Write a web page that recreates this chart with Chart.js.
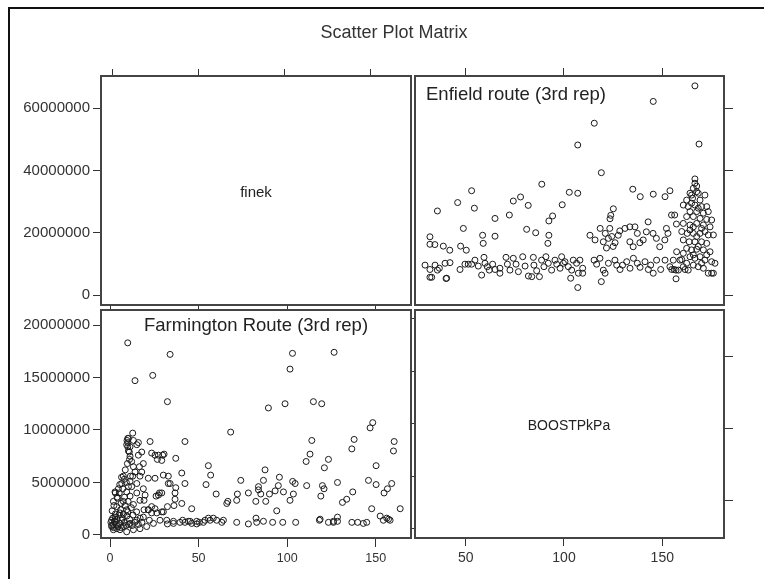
<!DOCTYPE html>
<html>
<head>
<meta charset="utf-8">
<script src="https://cdn.jsdelivr.net/npm/chart.js@4.4.1/dist/chart.umd.min.js"></script>
<style>
    body { margin: 0; background: #fff; width: 764px; height: 579px; overflow: hidden;
           font-family: "Liberation Sans", Arial, sans-serif; position: relative; }
    #frame { position: absolute; left: 8px; top: 7px; width: 800px; height: 620px;
             border-left: 2px solid #111; border-top: 2px solid #111; }
    canvas { position: absolute; left: 0; top: 0; }
    .txt { position: absolute; color: #222; white-space: nowrap; transform: translate(-50%, -50%); }
</style>
</head>
<body>
<div id="frame"></div>
<canvas id="pTL" width="764" height="579"></canvas>
<canvas id="pTR" width="764" height="579"></canvas>
<canvas id="pBL" width="764" height="579"></canvas>
<canvas id="pBR" width="764" height="579"></canvas>

<div class="txt" style="left:394px; top:32px; font-size:18px; color:#333;">Scatter Plot Matrix</div>
<div class="txt" style="left:256px; top:191px; font-size:15px;">finek</div>
<div class="txt" style="left:569px; top:425px; font-size:14px;">BOOSTPkPa</div>
<div class="txt" style="left:516px; top:94px; font-size:18.5px;">Enfield route (3rd rep)</div>
<div class="txt" style="left:256px; top:325px; font-size:18.5px;">Farmington Route (3rd rep)</div>

<script>
// ── Data (finek values in millions) ──
const enfieldBoost = [
    166.6, 145.4, 115.4, 107.0, 168.7, 119.0, 166.6, 88.7, 53.0, 102.7, 107.0, 135.0, 138.8, 145.4, 151.4, 153.9,
    45.9, 54.4, 35.6, 74.2, 77.9, 81.8, 72.2, 64.9, 99.1, 94.2, 92.3, 48.8, 81.0, 85.6, 64.9, 58.6, 92.3,
    31.8, 31.8, 34.3, 38.6, 41.9, 47.4, 50.3, 58.9, 91.8, 113.2, 125.1, 123.8, 123.4,
    115.8, 118.4, 120.0, 121.0, 122.6, 124.3, 126.0, 127.6, 125.0, 121.6, 123.3, 128.4, 131.0, 133.5, 136.1, 137.3,
    133.5, 135.2, 138.6, 140.3, 141.9, 142.8, 145.3, 147.0, 148.7, 151.3, 152.9, 152.1, 154.7, 156.3, 157.2,
    166.6, 165.8, 167.5, 164.1, 168.3, 162.4, 165.4, 169.2, 171.7, 160.7, 163.2, 166.6, 170.0, 172.6, 164.1, 167.5,
    170.9, 173.4, 162.4, 165.8, 169.2, 172.6, 175.1, 160.7, 164.1, 167.5, 170.9, 174.3, 159.9, 162.7, 165.8, 169.2,
    173.4, 176.0, 160.7, 163.7, 166.6, 170.0, 172.6, 162.4, 164.9, 167.5, 170.9, 174.3, 160.7, 164.1, 166.6, 169.2,
    171.7, 175.1, 176.8, 162.4, 165.8, 168.3, 170.9, 173.4, 175.1, 163.2, 160.7, 159.0, 157.3, 155.6, 154.8, 157.0,
    164.9, 168.3, 165.8, 170.0, 167.5, 164.1, 171.7, 168.3, 165.8, 170.0, 172.6, 167.5, 164.9,
    29.3, 31.8, 32.7, 34.4, 35.6, 36.6, 39.5, 40.3, 42.0, 47.1, 49.6, 51.3, 53.0, 54.7, 56.4, 58.1, 59.3, 59.8,
    61.0, 62.0, 63.7, 64.9, 67.4, 67.4, 70.5, 71.2, 72.5, 74.2, 75.6, 76.8, 79.0, 80.2, 81.9, 83.6, 84.4, 84.7,
    86.1, 87.5, 88.6, 89.8, 90.8, 92.0, 93.7, 95.4, 96.3, 98.0, 98.8, 99.7, 100.5, 102.2, 103.9, 104.7, 106.4,
    108.1, 109.5, 109.5, 115.3, 116.6, 118.3, 120.0, 120.9, 122.6, 125.9, 126.8, 128.5, 129.8, 131.9, 133.6,
    135.3, 137.3, 138.7, 141.2, 142.9, 144.1, 145.4, 147.1, 149.2, 151.4, 153.9, 156.0, 158.2, 159.9, 161.6,
    103.4, 107.3, 107.0, 119.0, 157.0, 40.0, 31.8, 176.0
];
const enfieldFinek = [
    67.2, 62.2, 55.2, 48.2, 48.5, 39.3, 37.3, 35.6, 33.5, 33.0, 32.7, 34.0, 31.6, 32.4, 31.6, 33.5,
    29.7, 27.9, 27.0, 30.2, 31.5, 28.8, 25.7, 24.6, 29.0, 25.4, 23.8, 21.4, 21.1, 20.0, 18.9, 19.2, 19.2,
    18.7, 16.3, 16.2, 15.7, 14.4, 15.7, 14.4, 16.6, 16.6, 19.2, 27.7, 25.6, 24.5,
    17.7, 21.4, 17.1, 19.8, 18.2, 18.8, 16.8, 19.2, 15.6, 15.1, 21.4, 20.6, 21.4, 21.9, 21.9, 19.8,
    17.1, 15.5, 16.8, 17.7, 20.3, 23.5, 19.8, 18.2, 15.5, 17.7, 19.8, 21.4, 25.7, 25.7, 22.8,
    35.9, 34.3, 35.0, 32.7, 32.7, 30.5, 31.1, 30.5, 32.1, 28.9, 28.4, 28.9, 28.4, 28.4, 26.8, 26.8,
    26.3, 26.8, 25.2, 25.2, 24.6, 24.3, 24.1, 23.0, 22.5, 23.0, 22.5, 21.9, 20.4, 19.8, 19.8, 19.8,
    19.3, 19.3, 17.7, 17.1, 17.1, 17.1, 16.6, 15.0, 14.5, 14.7, 14.5, 13.9, 13.4, 12.3, 11.8, 12.3,
    11.2, 10.7, 10.2, 10.2, 9.6, 9.1, 8.6, 7.0, 7.0, 8.0, 9.1, 11.2, 13.9, 11.2, 8.2, 8.0,
    29.5, 27.9, 21.9, 21.4, 18.8, 20.9, 20.4, 15.6, 12.9, 10.2, 12.9, 33.2, 32.1,
    9.6, 8.2, 5.7, 9.6, 8.0, 8.6, 10.2, 5.4, 10.4, 8.2, 9.9, 9.9, 9.9, 11.2, 9.3, 6.4, 12.1, 10.2,
    9.1, 8.0, 9.9, 8.2, 8.6, 7.0, 12.1, 9.9, 8.0, 11.8, 9.9, 7.5, 12.3, 9.3, 6.1, 5.9, 12.1, 9.6,
    7.8, 5.9, 11.2, 9.1, 12.3, 10.2, 8.0, 11.2, 9.9, 8.6, 12.3, 10.2, 10.7, 9.1, 8.0, 11.2, 10.2,
    11.2, 8.6, 7.0, 11.2, 9.9, 11.8, 8.0, 7.0, 10.2, 11.2, 9.6, 8.2, 9.6, 10.7, 8.6,
    11.8, 10.2, 8.9, 10.7, 8.2, 9.6, 7.0, 11.2, 8.2, 11.2, 9.1, 8.2, 8.0, 11.4, 8.2,
    5.4, 7.0, 2.4, 4.3, 5.2, 5.3, 5.7, 7.0
];

const farmingtonX = [
    10.0, 33.9, 14.1, 24.1, 32.4, 103.0, 101.6, 126.5, 89.4, 98.8, 114.8, 119.5, 68.1, 148.3, 146.8, 160.4,
    160.0, 137.8, 136.5, 113.9, 112.9, 110.7, 123.3, 121.0, 150.2, 145.9, 150.2, 159.0, 156.6, 154.7, 128.4,
    119.9, 120.8, 119.0, 103.1, 104.5, 103.5, 101.6, 111.0, 95.6, 95.0, 93.2, 97.9, 87.9, 137.0, 133.6, 131.2,
    163.8, 147.7, 152.5, 156.2, 128.4, 126.1, 118.6, 94.1, 82.3, 83.8, 85.1, 90.0, 78.1, 71.9, 71.5, 65.9,
    66.5, 73.8, 87.5, 59.9, 55.5, 56.8, 54.2, 46.1, 40.5, 42.3, 37.1, 36.7, 36.7, 36.1, 42.3, 37.1, 29.7,
    30.5, 25.4, 26.7, 22.6, 30.1, 25.4, 21.6, 32.9, 29.2, 27.9, 26.0, 30.1, 25.4, 23.5, 22.2, 19.2, 19.2, 21.6,
    10.0, 10.0, 10.0, 10.9, 11.3, 12.2, 13.2, 14.1, 12.8, 11.3, 10.4, 9.4, 12.2, 15.1, 16.9, 17.9, 16.6, 16.0,
    15.1, 13.2, 17.9, 18.8, 7.5, 6.6, 4.7, 2.8, 1.9, 3.8, 7.5, 11.3, 15.1, 18.8, 19.8, 16.9, 13.2, 9.4, 5.6,
    2.8, 0.9, 1.9, 3.8, 7.5, 11.3, 15.1, 18.8, 21.6, 23.5, 26.4, 28.2, 24.5, 20.7, 16.9, 13.2, 9.4, 5.6, 1.9,
    0.9, 2.8, 6.6, 16.0, 23.5, 27.3, 29.2, 32.9, 33.9, 27.3, 32.4, 29.2, 32.0, 35.8, 40.5, 45.2, 48.9, 53.6,
    86.6, 83.8, 12.8, 10.4, 11.3,
    32.4, 35.8, 42.3, 46.1, 48.9, 52.7, 56.5, 60.2, 63.1, 71.5, 78.1, 82.8, 86.6, 91.8, 97.5, 104.8, 118.2,
    123.3, 126.1, 128.4, 136.5, 139.8, 143.0, 144.9, 154.3, 157.2, 158.1, 39.5, 41.0, 44.2, 50.4, 55.5, 58.3,
    64.0, 82.4,
    0.5, 1.0, 1.5, 2.0, 2.5, 3.0, 3.5, 4.0, 4.5, 5.0, 5.5, 6.0, 6.5, 7.0, 7.5, 8.0, 8.5, 9.0, 9.5, 10.0, 10.5,
    11.0, 12.0, 12.5, 13.0, 14.0, 15.0, 16.0, 17.0, 18.0, 1.2, 2.2, 4.2, 6.2, 8.2, 10.2, 5.2, 7.2, 9.2, 11.5,
    8.6, 9.8, 11.0, 10.4, 9.4, 9.6, 3.0, 5.5, 6.5, 4.0, 8.0
];
const farmingtonFinek = [
    18.3, 17.2, 14.7, 15.2, 12.7, 17.3, 15.8, 17.4, 12.1, 12.5, 12.7, 12.5, 9.8, 10.7, 10.2, 8.9,
    8.0, 9.1, 8.2, 9.0, 7.7, 7.0, 7.2, 6.4, 6.6, 5.2, 4.8, 4.9, 4.4, 4.0, 5.0,
    4.7, 4.4, 3.7, 5.1, 4.9, 3.9, 3.3, 4.7, 5.5, 4.7, 4.2, 4.1, 3.2, 4.1, 3.4, 3.1,
    2.5, 2.5, 1.8, 1.6, 1.7, 1.3, 1.5, 2.3, 3.2, 4.3, 3.9, 3.9, 4.0, 3.9, 3.3, 3.0,
    3.2, 5.2, 6.2, 3.9, 6.6, 5.7, 4.8, 2.5, 5.9, 4.9, 4.5, 4.0, 3.4, 2.8, 8.9, 7.3, 7.6,
    7.7, 7.6, 7.2, 8.9, 5.7, 5.4, 5.4, 4.9, 4.0, 4.0, 3.7, 2.2, 2.5, 2.1, 1.4, 3.3, 2.4, 2.4,
    9.2, 8.8, 8.4, 7.9, 7.5, 7.0, 6.5, 6.0, 5.6, 5.1, 4.6, 4.1, 4.6, 4.9, 5.6, 6.0, 6.5, 7.6,
    8.6, 9.0, 7.9, 6.8, 5.6, 4.9, 4.4, 4.1, 3.2, 2.7, 3.2, 3.7, 4.0, 4.4, 3.8, 3.3, 2.9, 2.4, 2.1,
    1.7, 1.4, 1.0, 0.6, 0.8, 1.1, 1.4, 1.7, 2.4, 2.7, 2.1, 1.4, 1.1, 0.8, 0.6, 0.5, 0.3, 0.5, 0.5,
    0.8, 1.3, 1.4, 8.8, 7.8, 7.6, 7.1, 5.6, 4.9, 3.8, 2.7, 2.2, 1.4, 1.3, 3.0, 1.3, 1.3, 1.4,
    5.2, 4.6, 9.7, 9.2, 8.4,
    1.05, 1.1, 1.2, 1.1, 1.05, 1.2, 1.4, 1.4, 1.2, 1.2, 1.05, 1.2, 1.3, 1.2, 1.2, 1.2, 1.4,
    1.2, 1.2, 1.3, 1.2, 1.2, 1.1, 1.2, 1.4, 1.5, 1.4, 1.2, 1.4, 1.3, 1.2, 1.6, 1.6,
    1.4, 1.6,
    1.2, 0.9, 1.6, 0.7, 1.3, 2.0, 1.0, 1.5, 0.8, 1.9, 1.1, 2.4, 0.7, 1.6, 2.0, 1.2, 2.8, 0.9, 1.8, 2.2, 1.0,
    1.5, 2.6, 0.9, 1.9, 1.2, 2.2, 1.0, 1.6, 1.2, 2.3, 2.8, 3.5, 3.0, 3.6, 3.2, 4.0, 4.4, 5.0, 5.6,
    6.2, 6.8, 7.2, 8.0, 8.6, 9.0, 4.0, 4.8, 5.5, 3.6, 5.3
];

// ── Tick values ──
const finekTicks     = [0, 20, 40, 60];      // millions
const farmFinekTicks = [0, 5, 10, 15, 20];   // millions
const col1Ticks      = [0, 50, 100, 150];
const boostTicks     = [50, 100, 150];

// ── Layout helpers ──
const W = 764, H = 579;
const FONT = '"Liberation Sans", Arial, sans-serif';
const millions = v => String(Math.round(v * 1e6));

// axis box size: room for labels when shown, else just the tick marks
const axisSize = (horiz, labels) => labels ? (horiz ? 40 : 95) : 10;

function makeAxis(position, min, max, o = {}) {
    const horiz = position === 'top' || position === 'bottom';
    const tickVals = o.ticks || [min];
    const size = axisSize(horiz, o.labels);
    return {
        type: 'linear',
        axis: horiz ? 'x' : 'y',
        position, min, max,
        afterBuildTicks: s => { s.ticks = tickVals.map(v => ({ value: v })); },
        afterFit: s => { if (horiz) s.height = size; else s.width = size; },
        grid: {
            display: !!o.ticks, drawOnChartArea: false, drawTicks: true,
            tickLength: o.len || 8, color: '#333', lineWidth: 1,
        },
        border: { display: true, color: '#444', width: 2 },
        ticks: {
            display: !!o.labels, autoSkip: false, maxRotation: 0,
            padding: o.pad ?? 3, color: '#333',
            font: { family: FONT, size: o.size || 14 },
            callback: o.fmt || (v => String(v)),
        },
    };
}

function makePanel(id, box, scales, datasets) {
    const sz = k => axisSize(k.startsWith('x'), scales[k].ticks.display);
    return new Chart(document.getElementById(id), {
        type: 'scatter',
        data: { datasets },
        options: {
            responsive: false,
            animation: false,
            events: [],
            layout: { padding: {
                left:   box.l - sz('y'),
                top:    box.t - sz('x2'),
                right:  W - box.r - sz('y2'),
                bottom: H - box.b - sz('x'),
            } },
            plugins: { legend: { display: false }, tooltip: { enabled: false } },
            scales,
        },
    });
}

function circles(xs, ys) {
    return [{
        data: xs.map((x, i) => ({ x, y: ys[i] })),
        pointStyle: 'circle', pointRadius: 3, borderWidth: 1,
        borderColor: '#1a1a1a', backgroundColor: 'rgba(0,0,0,0)',
    }];
}

// ── Ranges ──
const row1Y  = [-3.21, 70.37];
const tlX    = [-6.4, 173.2];
const col2X  = [24.2, 181.4];
const blX    = [-5.1, 169.9];
const blY    = [-0.29, 21.43];
const blY2   = [-0.886, 20.83];
const brY    = [23.5, 182.6];

// Top-left: finek diagonal
makePanel('pTL', { l: 101, t: 76, r: 411, b: 305 }, {
    x:  makeAxis('bottom', ...tlX),
    x2: makeAxis('top', ...tlX, { ticks: col1Ticks, len: 7 }),
    y:  makeAxis('left', ...row1Y, { ticks: finekTicks, labels: true, len: 8, size: 15, fmt: millions }),
    y2: makeAxis('right', ...row1Y),
}, []);

// Top-right: Enfield route
makePanel('pTR', { l: 415, t: 76, r: 724, b: 305 }, {
    x:  makeAxis('bottom', ...col2X),
    x2: makeAxis('top', ...col2X, { ticks: boostTicks, len: 8 }),
    y:  makeAxis('left', ...row1Y),
    y2: makeAxis('right', ...row1Y, { ticks: finekTicks, len: 9 }),
}, circles(enfieldBoost, enfieldFinek));

// Bottom-left: Farmington Route
makePanel('pBL', { l: 101, t: 310, r: 411, b: 538 }, {
    x:  makeAxis('bottom', ...blX, { ticks: col1Ticks, labels: true, len: 9, size: 12.5, pad: 4 }),
    x2: makeAxis('top', ...blX, { ticks: col1Ticks, len: 4 }),
    y:  makeAxis('left', ...blY, { ticks: farmFinekTicks, labels: true, len: 8, size: 15, fmt: millions }),
    y2: makeAxis('right', ...blY2, { ticks: farmFinekTicks, len: 4 }),
}, circles(farmingtonX, farmingtonFinek));

// Bottom-right: BOOSTPkPa diagonal
makePanel('pBR', { l: 415, t: 310, r: 724, b: 538 }, {
    x:  makeAxis('bottom', ...col2X, { ticks: boostTicks, labels: true, len: 8, pad: 4 }),
    x2: makeAxis('top', ...col2X),
    y:  makeAxis('left', ...brY),
    y2: makeAxis('right', ...brY, { ticks: boostTicks, len: 9 }),
}, []);
</script>
</body>
</html>
